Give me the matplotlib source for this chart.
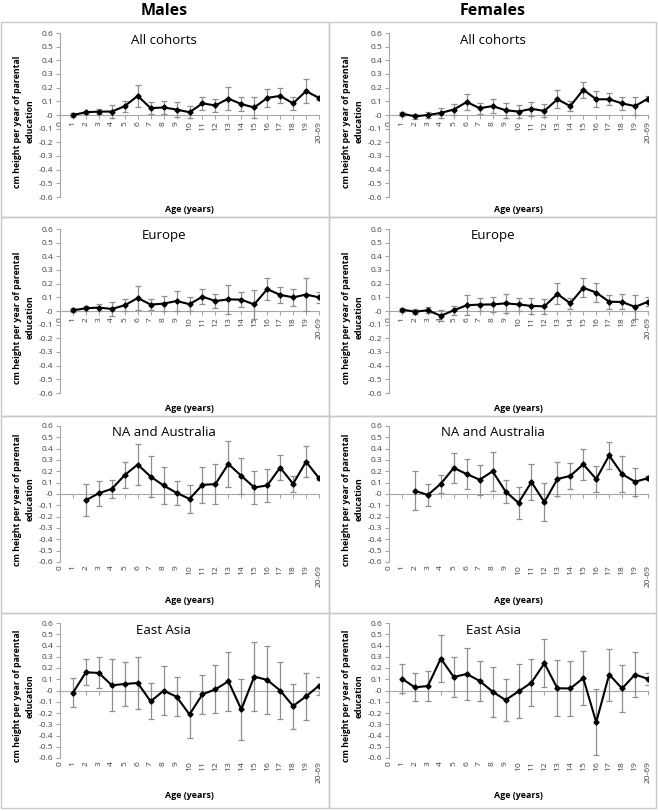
import numpy as np
import matplotlib
matplotlib.use('Agg')
import matplotlib.pyplot as plt
from matplotlib.patches import Rectangle

# x categories (age in years)
ages = ['0', '1', '2', '3', '4', '5', '6', '7', '8', '9', '10', '11', '12',
        '13', '14', '15', '16', '17', '18', '19', '20-69']

# values for ages 1 .. 20-69, half-width of the error bars alongside
male_all = [0.00, 0.02, 0.025, 0.025, 0.065, 0.14, 0.05, 0.055, 0.04, 0.02,
            0.085, 0.07, 0.12, 0.08, 0.055, 0.125, 0.14, 0.085, 0.175, 0.125]
male_all_err = [0.015, 0.012, 0.02, 0.045, 0.04, 0.08, 0.045, 0.05, 0.055, 0.045,
                0.048, 0.045, 0.085, 0.05, 0.08, 0.068, 0.055, 0.045, 0.088, 0.015]
female_all = [0.01, -0.01, 0.0, 0.015, 0.04, 0.095, 0.05, 0.065, 0.035, 0.025,
              0.045, 0.03, 0.115, 0.065, 0.185, 0.115, 0.115, 0.085, 0.065, 0.12]
female_all_err = [0.015, 0.018, 0.022, 0.035, 0.038, 0.062, 0.04, 0.05, 0.056, 0.048,
                  0.052, 0.048, 0.065, 0.035, 0.06, 0.06, 0.045, 0.05, 0.067, 0.017]

male_eu = [0.005, 0.02, 0.025, 0.015, 0.042, 0.095, 0.047, 0.054, 0.073, 0.05,
           0.105, 0.073, 0.085, 0.083, 0.048, 0.16, 0.118, 0.1, 0.12, 0.1]
male_eu_err = [0.015, 0.018, 0.024, 0.05, 0.043, 0.085, 0.043, 0.055, 0.073, 0.053,
               0.053, 0.048, 0.105, 0.055, 0.108, 0.083, 0.06, 0.062, 0.122, 0.04]
female_eu = [0.01, -0.005, 0.005, -0.035, 0.005, 0.042, 0.047, 0.048, 0.056, 0.048,
             0.037, 0.034, 0.125, 0.056, 0.17, 0.135, 0.068, 0.066, 0.03, 0.068]
female_eu_err = [0.015, 0.02, 0.023, 0.04, 0.035, 0.072, 0.045, 0.052, 0.068, 0.05,
                 0.057, 0.053, 0.077, 0.04, 0.07, 0.068, 0.05, 0.055, 0.09, 0.035]

male_na = [np.nan, -0.055, 0.007, 0.045, 0.167, 0.26, 0.153, 0.075, 0.01, -0.043,
           0.081, 0.087, 0.265, 0.16, 0.058, 0.075, 0.233, 0.09, 0.285, 0.14]
male_na_err = [np.nan, 0.14, 0.112, 0.08, 0.112, 0.177, 0.178, 0.16, 0.104, 0.125,
               0.16, 0.175, 0.203, 0.162, 0.148, 0.146, 0.113, 0.07, 0.135, 0.02]
female_na = [np.nan, 0.028, -0.008, 0.09, 0.23, 0.176, 0.126, 0.2, 0.022, -0.078,
             0.105, -0.072, 0.132, 0.16, 0.262, 0.132, 0.34, 0.176, 0.108, 0.14]
female_na_err = [np.nan, 0.173, 0.1, 0.077, 0.135, 0.136, 0.134, 0.17, 0.105, 0.14,
                 0.158, 0.17, 0.15, 0.117, 0.135, 0.113, 0.117, 0.158, 0.122, 0.02]

male_ea = [-0.02, 0.162, 0.156, 0.046, 0.058, 0.067, -0.097, -0.002, -0.055, -0.213,
           -0.034, 0.01, 0.082, -0.168, 0.124, 0.094, 0.0, -0.138, -0.052, 0.043]
male_ea_err = [0.128, 0.115, 0.138, 0.232, 0.195, 0.23, 0.16, 0.216, 0.173, 0.207,
               0.172, 0.213, 0.262, 0.274, 0.308, 0.3, 0.25, 0.2, 0.21, 0.079]
female_ea = [0.105, 0.028, 0.04, 0.284, 0.12, 0.147, 0.085, -0.01, -0.085, -0.008,
             0.07, 0.242, 0.02, 0.018, 0.11, -0.282, 0.142, 0.018, 0.142, 0.103]
female_ea_err = [0.128, 0.125, 0.134, 0.212, 0.178, 0.228, 0.178, 0.222, 0.19, 0.24,
                 0.21, 0.212, 0.25, 0.243, 0.238, 0.294, 0.231, 0.21, 0.204, 0.055]

titles = ['All cohorts', 'Europe', 'NA and Australia', 'East Asia']
males = [(male_all, male_all_err), (male_eu, male_eu_err),
         (male_na, male_na_err), (male_ea, male_ea_err)]
females = [(female_all, female_all_err), (female_eu, female_eu_err),
           (female_na, female_na_err), (female_ea, female_ea_err)]

W, H = 658, 811
fig = plt.figure(figsize=(W / 100, H / 100), dpi=100)
plt.rcParams['font.family'] = ['Open Sans', 'DejaVu Sans']


def fbox(x0, y0, x1, y1):
    # pixel box (top-left origin) -> figure fraction rect
    return [x0 / W, 1 - y1 / H, (x1 - x0) / W, (y1 - y0) / H]


grid_c = '#c8c8c8'
axis_c = '#a6a6a6'
text_c = '#404040'

# panel rows: (panel top, panel bottom, plot top, plot bottom, labels at zero line?)
rows = [(22, 217, 33, 197, True),
        (217, 416, 229, 393, True),
        (416, 613, 426, 562, False),
        (613, 808, 623, 758, False)]
cols = [(1, 329, 60, 319), (329, 656, 389, 648)]

fig.text(164 / W, 1 - 11 / H, 'Males', ha='center', va='center',
         fontsize=11.5, fontweight='bold')
fig.text(493 / W, 1 - 11 / H, 'Females', ha='center', va='center',
         fontsize=11.5, fontweight='bold')

x = np.arange(1, 21)

for ci, data in enumerate([males, females]):
    px0, px1, ax0, ax1 = cols[ci]
    for ri, (vals, errs) in enumerate(data):
        pt, pb, yt, yb, at_zero = rows[ri]
        fig.add_artist(Rectangle((px0 / W, 1 - pb / H), (px1 - px0) / W, (pb - pt) / H,
                                 transform=fig.transFigure, fill=False,
                                 edgecolor=grid_c, lw=1))
        ax = fig.add_axes(fbox(ax0, yt, ax1, yb))
        ax.patch.set_visible(False)
        ax.errorbar(x, vals, yerr=errs, color='black', lw=1.5, marker='D', ms=2.6,
                    ecolor='#8f8f8f', elinewidth=0.9, capsize=2, capthick=0.9,
                    zorder=3)
        ax.set_xlim(0, 20)
        ax.set_ylim(-0.6, 0.6)
        yt_vals = np.round(np.arange(-0.6, 0.61, 0.1), 1)
        ax.set_yticks(yt_vals)
        ax.set_yticklabels([f'{v:g}' for v in yt_vals])
        for s in ['top', 'right']:
            ax.spines[s].set_visible(False)
        ax.spines['left'].set_color(axis_c)
        ax.spines['bottom'].set_color(axis_c)
        ax.spines['bottom'].set_position(('data', 0))
        ax.tick_params(axis='y', colors=axis_c, labelcolor=text_c, labelsize=6,
                       length=3, width=0.8, pad=2)
        ax.tick_params(axis='x', colors=axis_c, length=3, width=0.8)
        ax.set_xticks(range(21))
        ax.set_xticklabels([])
        # category labels: just under the zero line, or along the bottom
        sec = ax.secondary_xaxis(0.5 if at_zero else 'bottom')
        sec.set_alignment('bottom')
        sec.spines['bottom'].set_visible(False)
        sec.spines['top'].set_visible(False)
        sec.set_xticks(range(21), labels=ages)
        sec.tick_params(axis='x', length=0, labelcolor=text_c, labelsize=6.1,
                        labelrotation=90, pad=4.5 if at_zero else 2)
        hgt = yb - yt
        ax.text((164 - 60) / 259, 1 - 7 / hgt, titles[ri], transform=ax.transAxes,
                ha='center', va='center', fontsize=9.5)
        ax.set_ylabel('cm height per year of parental\neducation', fontsize=6.3,
                      fontweight='bold', linespacing=1.45)
        ax.yaxis.set_label_coords(-0.098, 0.46)
        ax.set_xlabel('Age (years)', fontsize=6.4, fontweight='bold')
        label_y = (pb - 12) if at_zero else (pb - 17)
        ax.xaxis.set_label_coords(0.5, (yb - label_y) / hgt)

fig.savefig('out.png', dpi=100)
